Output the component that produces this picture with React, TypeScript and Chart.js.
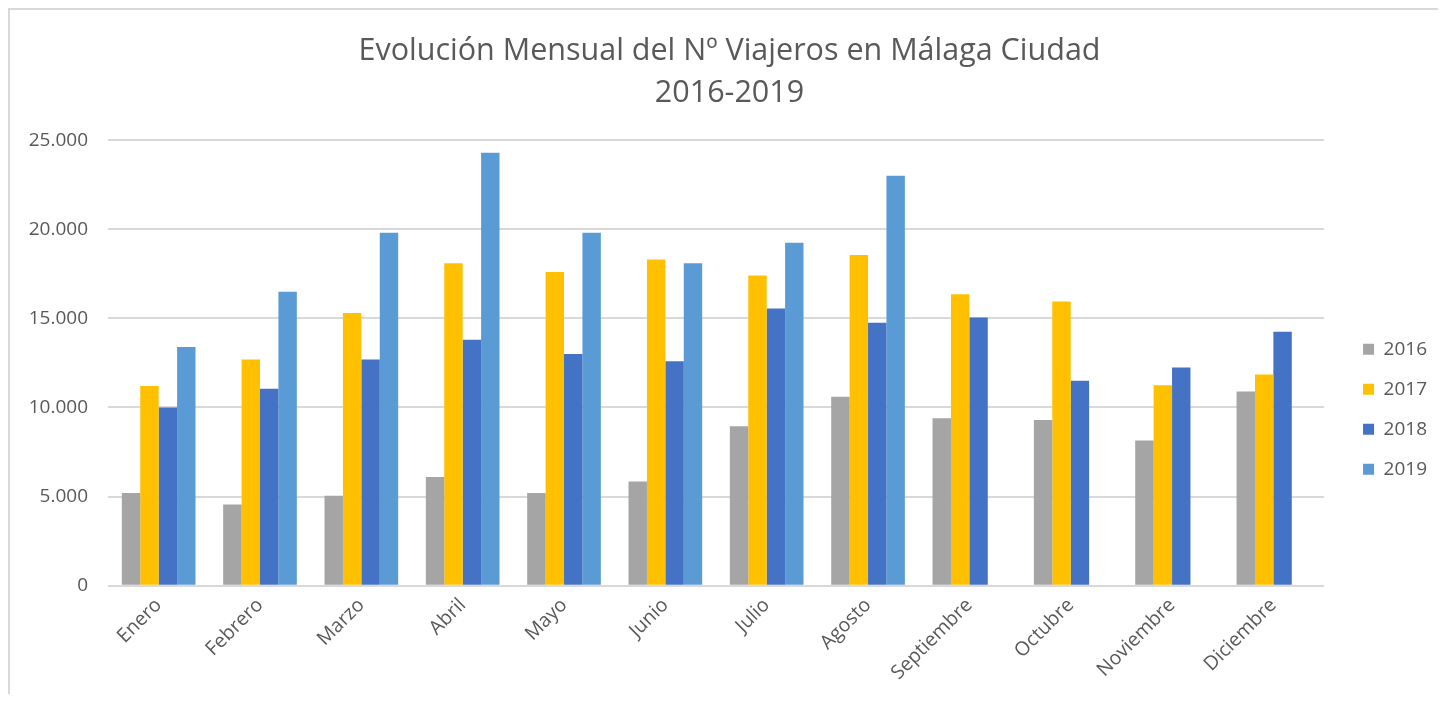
import React, { useEffect, useRef } from "react";
import { Chart, registerables } from "chart.js";

Chart.register(...registerables);

const months = [
  "Enero", "Febrero", "Marzo", "Abril", "Mayo", "Junio",
  "Julio", "Agosto", "Septiembre", "Octubre", "Noviembre", "Diciembre",
];

const series2016 = [5200, 4550, 5050, 6100, 5200, 5850, 8950, 10600, 9400, 9300, 8150, 10900];
const series2017 = [11200, 12700, 15300, 18100, 17600, 18300, 17400, 18550, 16350, 15950, 11250, 11850];
const series2018 = [10000, 11050, 12700, 13800, 13000, 12600, 15550, 14750, 15050, 11500, 12250, 14250];
const series2019 = [13400, 16500, 19800, 24300, 19800, 18100, 19250, 23000, null, null, null, null];

const yTickValues = [0, 5000, 10000, 15000, 20000, 25000];
const yTickLabels = ["0", "5.000", "10.000", "15.000", "20.000", "25.000"];

const titleLines = ["Evolución Mensual del Nº Viajeros en Málaga Ciudad", "2016-2019"];

const FONT = "'Open Sans', 'Noto Sans', sans-serif";
const TEXT = "#595959";

export default function App() {
  const ref = useRef<HTMLCanvasElement | null>(null);

  useEffect(() => {
    if (!ref.current) return;
    const chart = new Chart(ref.current, {
      type: "bar",
      data: {
        labels: months,
        datasets: [
          { label: "2016", data: series2016, backgroundColor: "#A5A5A5" },
          { label: "2017", data: series2017, backgroundColor: "#FFC000" },
          { label: "2018", data: series2018, backgroundColor: "#4472C4" },
          { label: "2019", data: series2019, backgroundColor: "#5B9BD5" },
        ],
      },
      options: {
        animation: false,
        responsive: false,
        devicePixelRatio: 1,
        layout: { padding: { left: 12, right: 1, top: 0, bottom: 0 } },
        datasets: {
          bar: { barPercentage: 1, categoryPercentage: 0.727 },
        },
        plugins: {
          tooltip: { enabled: false },
          title: {
            display: true,
            text: titleLines,
            color: TEXT,
            font: { family: FONT, size: 30.5, weight: "normal", lineHeight: 1.38 },
            padding: { top: 20, bottom: 26 },
          },
          legend: {
            position: "right",
            align: "start",
            fullSize: false,
            title: {
              display: true,
              text: "",
              font: { family: FONT, size: 10, lineHeight: 1.2 },
              padding: { top: 0, bottom: 166.5 },
            },
            labels: {
              boxWidth: 11,
              boxHeight: 11,
              padding: 21,
              color: TEXT,
              font: { family: FONT, size: 19 },
            },
          },
        },
        scales: {
          x: {
            grid: { display: false, drawTicks: false },
            border: { display: false },
            ticks: {
              color: TEXT,
              font: { family: FONT, size: 19.5 },
              minRotation: 45,
              maxRotation: 45,
              padding: 8,
              autoSkip: false,
            },
            afterFit: (s: any) => {
              s.height = 108.3;
            },
          },
          y: {
            min: 0,
            max: 25000,
            afterBuildTicks: (s: any) => {
              s.ticks = yTickValues.map((v) => ({ value: v }));
            },
            grid: { color: "#d9d9d9", lineWidth: 2, drawTicks: false },
            border: { display: false },
            ticks: {
              color: TEXT,
              font: { family: FONT, size: 19 },
              padding: 20,
              callback: (value: any) => {
                const i = yTickValues.indexOf(Number(value));
                return i >= 0 ? yTickLabels[i] : "";
              },
            },
            afterFit: (s: any) => {
              s.width = 86;
            },
          },
          gap: {
            type: "linear",
            position: "right",
            display: true,
            grid: { display: false, drawTicks: false },
            border: { display: false },
            ticks: { display: false },
            afterFit: (s: any) => {
              s.width = 18;
            },
          },
        },
      },
    });
    return () => chart.destroy();
  }, []);

  return (
    <div
      style={{
        width: 1428,
        height: 684,
        borderTop: "2px solid #d9d9d9",
        borderLeft: "2px solid #d9d9d9",
        background: "#fff",
      }}
    >
      <canvas ref={ref} width={1428} height={684} style={{ display: "block", width: 1428, height: 684 }} />
    </div>
  );
}
